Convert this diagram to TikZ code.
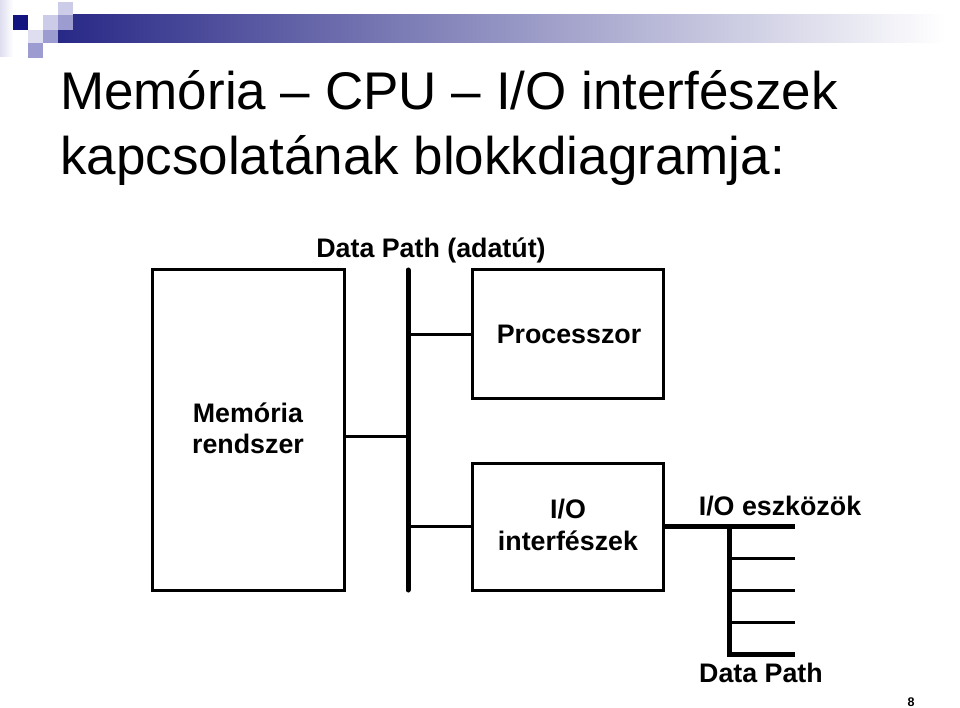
\documentclass[tikz,border=0pt]{standalone}
\usepackage{fontspec}
\setmainfont{Liberation Sans}
\definecolor{navy}{RGB}{20,20,128}
\definecolor{barnavy}{RGB}{40,40,135}
\definecolor{lav1}{RGB}{204,204,232}
\definecolor{lav2}{RGB}{156,156,208}
\definecolor{lav0}{RGB}{222,222,240}
\begin{document}
\begin{tikzpicture}[x=1pt,y=-1pt,
  box/.style={draw=black,line width=3pt},
  wire/.style={line width=3pt,draw=black},
  thick wire/.style={line width=5pt,draw=black},
  title/.style={anchor=base west,inner sep=0pt,font=\fontsize{53}{60}\selectfont},
  lbl/.style={anchor=base,inner sep=0pt,font=\fontsize{26.8}{30}\selectfont\bfseries}]
\useasboundingbox (0,0) rectangle (960,708);
% logo
\shade[left color=lav0,right color=white] (0,0) rectangle (13,57);
\shade[left color=barnavy,right color=white] (58,15) rectangle (945,43);
\fill[navy] (13,15) rectangle (28,30);
\fill[lav1] (43,15) rectangle (58,30);
\fill[lav1] (58,2) rectangle (73,15);
\fill[lav2] (58,15) rectangle (73,30);
\fill[lav0] (28,30) rectangle (43,43);
\fill[lav2] (43,30) rectangle (58,43);
\fill[lav2] (28,43) rectangle (43,58);
% title
\node[title] (t1) at (60,110) {Memória – CPU – I/O interfészek};
\node[title] (t2) at (60,175) {kapcsolatának blokkdiagramja:};
% boxes
\node[box,minimum width=192pt,minimum height=320pt,inner sep=0pt] (mem) at (248,430) {};
\node[box,minimum width=191pt,minimum height=128pt,inner sep=0pt] (proc) at (568,334) {};
\node[box,minimum width=191pt,minimum height=127pt,inner sep=0pt] (io) at (568,526.5) {};
% bus
\coordinate (bt) at (408,270);
\coordinate (bb) at (408,590);
\draw[thick wire,line cap=round] (bt) -- (bb);
\coordinate (bp) at (408,334);
\coordinate (bm) at (408,436);
\coordinate (bi) at (408,526);
\draw[wire] (bp) -- (bp -| proc.west);
\draw[wire] (bm -| mem.east) -- (bm);
\draw[wire] (bi) -- (bi -| io.west);
% IO devices
\coordinate (de) at (795,526);
\coordinate (dv) at (729,526);
\coordinate (dvb) at (729,654);
\coordinate (d1) at (795,558);
\coordinate (d2) at (795,590);
\coordinate (d3) at (795,622);
\coordinate (d4) at (795,654);
\draw[thick wire] (io.east |- de) -- (de);
\draw[thick wire] (dv) -- (dvb) -- (d4);
\draw[wire] (d1 -| dv) -- (d1);
\draw[wire] (d2 -| dv) -- (d2);
\draw[wire] (d3 -| dv) -- (d3);
% labels
\node[lbl] (dp) at (431,258) {Data Path (adatút)};
\node[lbl] (pt) at (569,343) {Processzor};
\node[lbl] (m1) at (248,422) {Memória};
\node[lbl] (m2) at (248,453) {rendszer};
\node[lbl] (i1) at (568,518) {I/O};
\node[lbl] (i2) at (568,550) {interfészek};
\node[lbl] (ie) at (780,515) {I/O eszközök};
\node[lbl] (dp2) at (761,682) {Data Path};
\node[anchor=base,inner sep=0pt,font=\fontsize{12.5}{14}\selectfont\bfseries] (pg) at (911,706) {8};
\end{tikzpicture}
\end{document}
